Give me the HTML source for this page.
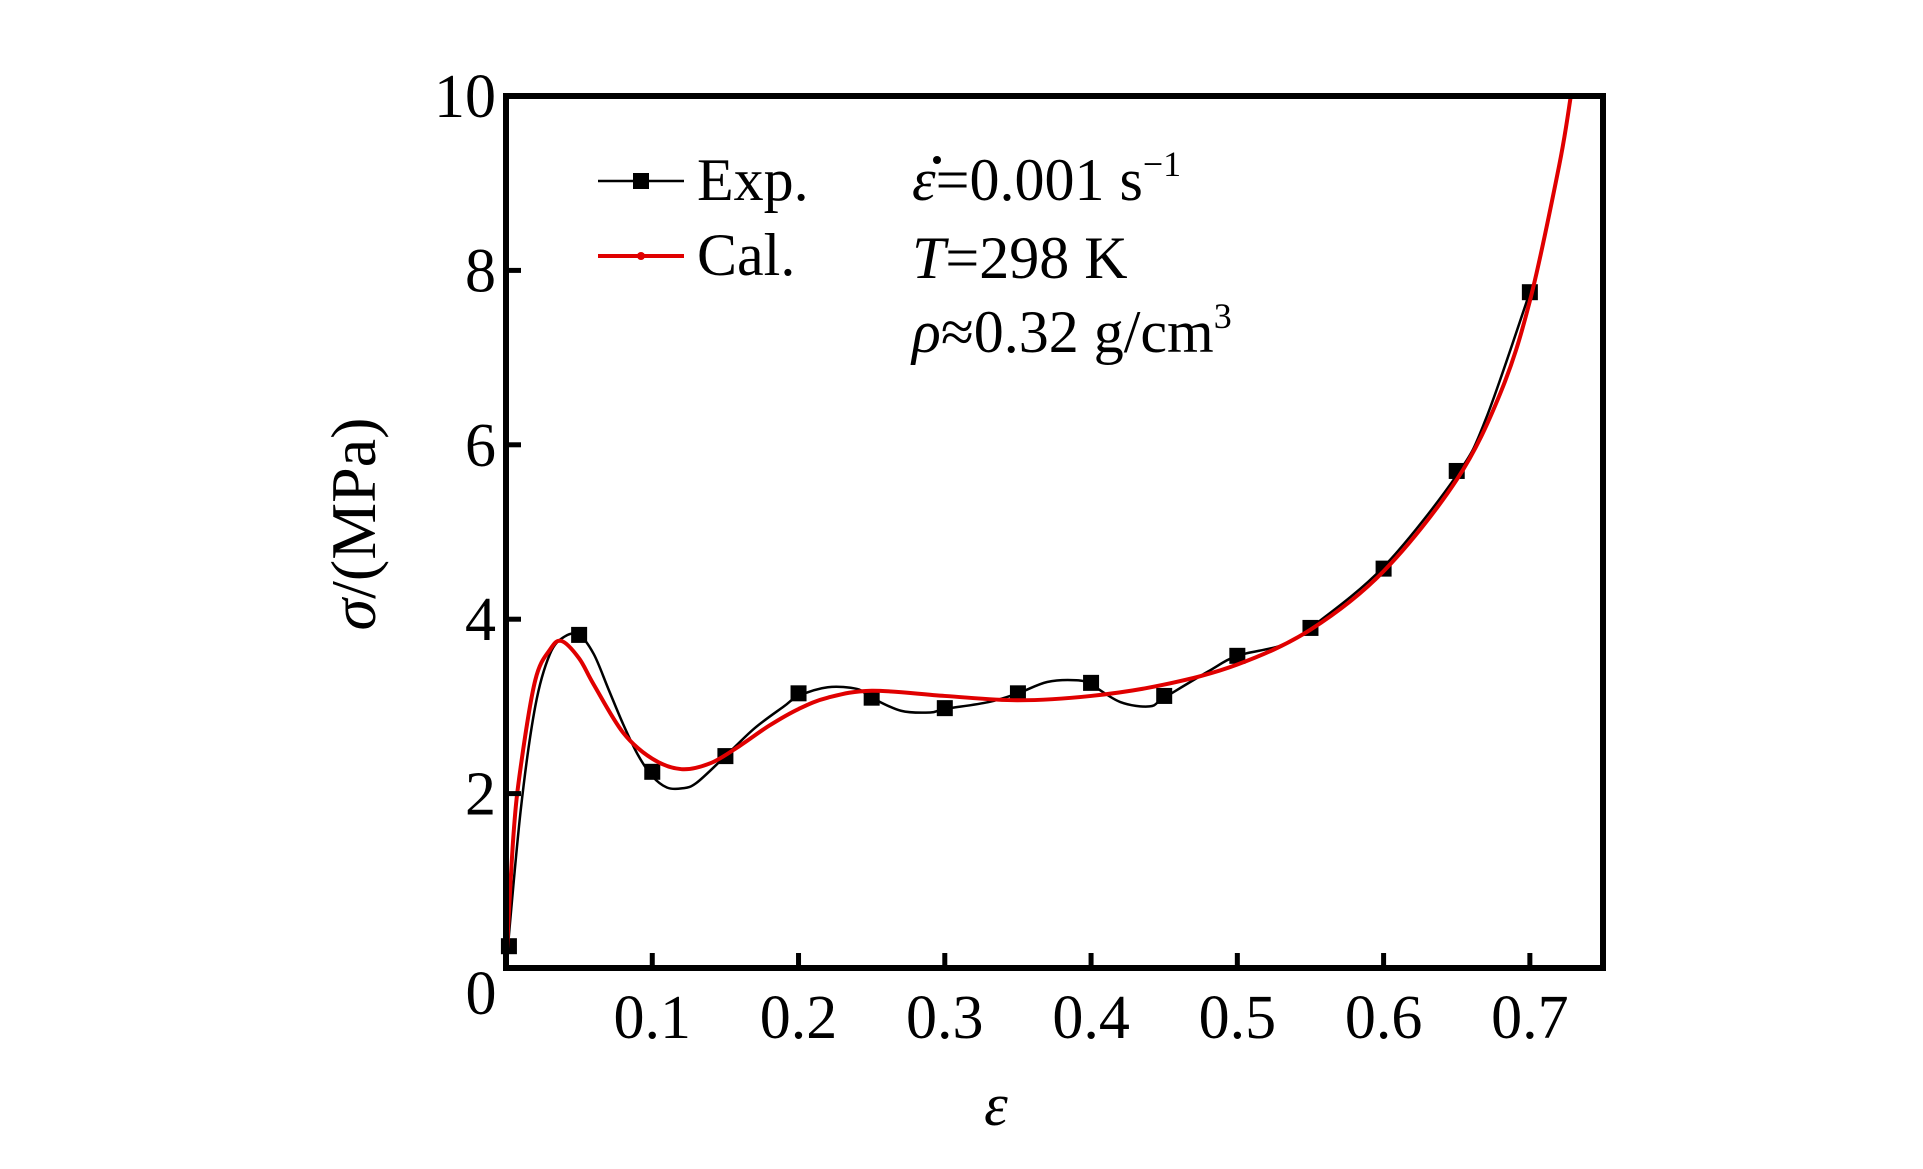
<!DOCTYPE html>
<html><head><meta charset="utf-8"><style>
body{margin:0;background:#fff;}
svg{display:block;font-family:"Liberation Serif",serif;}
</style></head><body>
<svg id="chart" width="1923" height="1169" viewBox="0 0 1923 1169">
<g id="marks"></g>
<rect x="506" y="96" width="1097" height="872" fill="none" stroke="#000" stroke-width="6"/>
<g id="axes"></g>
<text x="996" y="1125" font-size="60" font-style="italic" text-anchor="middle">ε</text>
<text transform="translate(375,524) rotate(-90)" font-size="64" text-anchor="middle"><tspan font-style="italic">σ</tspan>/(MPa)</text>
<g>
 <line x1="598" y1="181" x2="684" y2="181" stroke="#000" stroke-width="2.5"/>
 <rect x="633" y="173" width="16" height="16" fill="#000"/>
 <text x="697" y="200" font-size="60">Exp.</text>
 <line x1="598" y1="256" x2="684" y2="256" stroke="#e00000" stroke-width="4"/>
 <circle cx="641" cy="256" r="4" fill="#e00000"/>
 <text x="697" y="275" font-size="60">Cal.</text>
</g>
<g font-size="60">
 <text x="912" y="200"><tspan font-style="italic">ε</tspan>=0.001 s<tspan font-size="36" dy="-24">−1</tspan></text>
 <circle cx="937" cy="160" r="4" fill="#000"/>
 <text x="912" y="278"><tspan font-style="italic">T</tspan>=298 K</text>
 <text x="912" y="352"><tspan font-style="italic">ρ</tspan>≈0.32 g/cm<tspan font-size="36" dy="-24">3</tspan></text>
</g>
</svg>
<script>
const xTicks=[0.1,0.2,0.3,0.4,0.5,0.6,0.7];
const xTickLabels=["0.1","0.2","0.3","0.4","0.5","0.6","0.7"];
const yTicks=[2,4,6,8,10];
const yTickLabels=["2","4","6","8","10"];
const expX=[0.002,0.05,0.1,0.15,0.2,0.25,0.3,0.35,0.4,0.45,0.5,0.55,0.6,0.65,0.7];
const expY=[0.25,3.82,2.25,2.43,3.15,3.1,2.98,3.15,3.27,3.12,3.58,3.9,4.58,5.7,7.75];
const expLineX=[0,0.01,0.02,0.03,0.04,0.05,0.06,0.07,0.08,0.09,0.1,0.11,0.12,0.13,0.15,0.17,0.19,0.2,0.22,0.24,0.25,0.27,0.29,0.3,0.33,0.35,0.37,0.39,0.4,0.42,0.44,0.45,0.48,0.5,0.53,0.55,0.6,0.65,0.67,0.7];
const expLineY=[0,1.8,3.0,3.6,3.8,3.82,3.6,3.2,2.8,2.45,2.2,2.07,2.06,2.12,2.43,2.75,3.0,3.12,3.22,3.2,3.1,2.95,2.93,2.97,3.05,3.15,3.28,3.3,3.25,3.05,3.0,3.1,3.4,3.58,3.7,3.9,4.6,5.65,6.3,7.75];
const calX=[0,0.005,0.01,0.02,0.03,0.038,0.05,0.06,0.08,0.1,0.12,0.14,0.16,0.18,0.2,0.22,0.25,0.3,0.35,0.4,0.45,0.5,0.55,0.6,0.65,0.68,0.7,0.72,0.728];
const calY=[0,1.5,2.3,3.3,3.65,3.75,3.55,3.25,2.7,2.4,2.28,2.35,2.55,2.78,2.97,3.1,3.18,3.12,3.07,3.12,3.25,3.48,3.88,4.55,5.6,6.6,7.65,9.2,10];
const sx=v=>506+v/0.75*1097, sy=v=>968-v/10*872;
const NS="http://www.w3.org/2000/svg";
const axes=document.getElementById('axes'), marks=document.getElementById('marks');
function mk(tag,attrs,parent){const e=document.createElementNS(NS,tag);for(const k in attrs)e.setAttribute(k,attrs[k]);parent.appendChild(e);return e;}
xTicks.forEach((t,i)=>{
 const l=mk('line',{x1:sx(t),x2:sx(t),y1:968,y2:953,stroke:'#000','stroke-width':5},axes);
 
 
 const tx=mk('text',{x:sx(t),y:1038,'font-size':62,'text-anchor':'middle'},axes);tx.textContent=xTickLabels[i];
 
 
});
yTicks.forEach((t,i)=>{
 const l=mk('line',{x1:506,x2:521,y1:sy(t),y2:sy(t),stroke:'#000','stroke-width':5},axes);
 
 
 const tx=mk('text',{x:496,y:sy(t)+21,'font-size':62,'text-anchor':'end'},axes);tx.textContent=yTickLabels[i];
 
 
});
const z=mk('text',{x:481,y:1014,'font-size':62,'text-anchor':'middle'},axes);z.textContent="0";


function smooth(X,Y){const p=X.map((x,i)=>[sx(x),sy(Y[i])]);let d=`M${p[0][0]},${p[0][1]}`;
 for(let i=0;i<p.length-1;i++){const p0=p[i-1]||p[i],p1=p[i],p2=p[i+1],p3=p[i+2]||p2;
  d+=` C${p1[0]+(p2[0]-p0[0])/6},${p1[1]+(p2[1]-p0[1])/6} ${p2[0]-(p3[0]-p1[0])/6},${p2[1]-(p3[1]-p1[1])/6} ${p2[0]},${p2[1]}`;}
 return d;}
const el=mk('path',{d:smooth(expLineX,expLineY),fill:'none',stroke:'#000','stroke-width':2.5},marks);


expX.forEach((x,i)=>{const r=mk('rect',{x:sx(x)-8,y:sy(expY[i])-8,width:16,height:16,fill:'#000'},marks);
 
 });
const cl=mk('path',{d:smooth(calX,calY),fill:'none',stroke:'#e00000','stroke-width':4},marks);


</script>
</body></html>
